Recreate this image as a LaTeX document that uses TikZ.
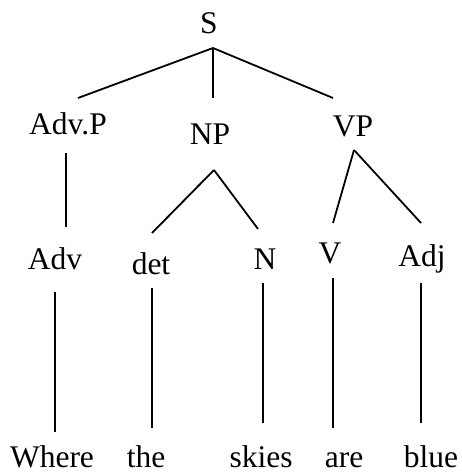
\documentclass[tikz,border=0pt]{standalone}
\usepackage{fontspec}
\setmainfont{Liberation Serif}
\begin{document}
\begin{tikzpicture}[x=1pt,y=-1pt,
  lbl/.style={anchor=base,inner sep=0pt,font=\fontsize{31.5}{38}\selectfont},
  branch/.style={line width=1.8pt,line cap=butt}]
\useasboundingbox (0,0) rectangle (462,473);
% category labels
\node[lbl] (S)    at (209,34)  {S};
\node[lbl] (AdvP) at (68,135)  {Adv.P};
\node[lbl] (NP)   at (210,145) {NP};
\node[lbl] (VP)   at (353,137) {VP};
\node[lbl] (Adv)  at (55,269)  {Adv};
\node[lbl] (det)  at (151,274) {det};
\node[lbl] (N)    at (265,269) {N};
\node[lbl] (V)    at (330,263) {V};
\node[lbl] (Adj)  at (422,266) {Adj};
% words
\node[lbl] (w1) at (52,467)  {Where};
\node[lbl] (w2) at (146,467) {the};
\node[lbl] (w3) at (261,467) {skies};
\node[lbl] (w4) at (344,467) {are};
\node[lbl] (w5) at (431,467) {blue};
% attachment points of the branches
\coordinate (S-b)    at (213,48);
\coordinate (AdvP-t) at (78,98);
\coordinate (NP-t)   at (213,98);
\coordinate (VP-t)   at (333,98);
\coordinate (AdvP-b) at (66,153);
\coordinate (Adv-t)  at (66,227);
\coordinate (NP-b)   at (214,170);
\coordinate (det-t)  at (152,233);
\coordinate (N-t)    at (258,229);
\coordinate (VP-b)   at (354,150);
\coordinate (V-t)    at (333,223);
\coordinate (Adj-t)  at (421,223);
\coordinate (Adv-b)  at (55,292);
\coordinate (w1-t)   at (55,432);
\coordinate (det-b)  at (152,288);
\coordinate (w2-t)   at (152,428);
\coordinate (N-b)    at (263,283);
\coordinate (w3-t)   at (263,423);
\coordinate (V-b)    at (333,278);
\coordinate (w4-t)   at (333,428);
\coordinate (Adj-b)  at (421,283);
\coordinate (w5-t)   at (421,423);
% branches
\draw[branch] (S-b) -- (AdvP-t);
\draw[branch] (S-b) -- (NP-t);
\draw[branch] (S-b) -- (VP-t);
\draw[branch] (AdvP-b) -- (Adv-t);
\draw[branch] (NP-b) -- (det-t);
\draw[branch] (NP-b) -- (N-t);
\draw[branch] (VP-b) -- (V-t);
\draw[branch] (VP-b) -- (Adj-t);
\draw[branch] (Adv-b) -- (w1-t);
\draw[branch] (det-b) -- (w2-t);
\draw[branch] (N-b) -- (w3-t);
\draw[branch] (V-b) -- (w4-t);
\draw[branch] (Adj-b) -- (w5-t);
\end{tikzpicture}
\end{document}
